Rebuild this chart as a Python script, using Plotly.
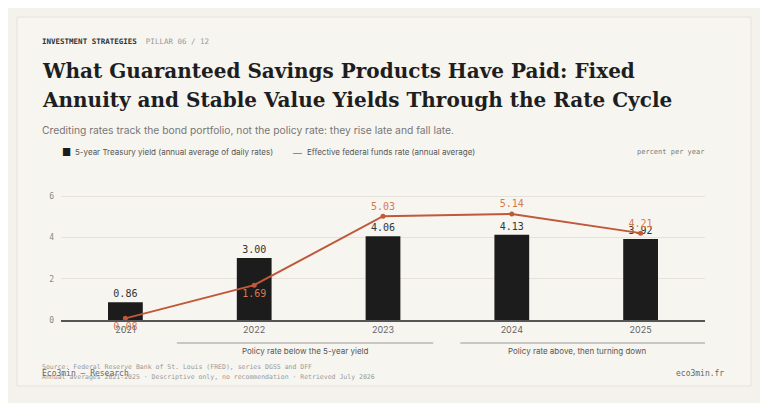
import plotly.graph_objects as go

years = ["2021", "2022", "2023", "2024", "2025"]
treasury_5y = [0.86, 3.00, 4.06, 4.13, 3.92]
fed_funds = [0.08, 1.69, 5.03, 5.14, 4.21]
y_ticks = [0, 2, 4, 6]

INK = "#1c1c1c"
RED = "#c0583a"
MONO = "DejaVu Sans Mono"
SANS = "Inter"
O = 8  # page body margin

fig = go.Figure()
fig.add_trace(go.Bar(x=years, y=treasury_5y, width=0.27, marker=dict(color=INK, line=dict(width=0)),
                     name="5-year Treasury yield (annual average of daily rates)",
                     text=[f"{v:.2f}" for v in treasury_5y], textposition="outside",
                     textfont=dict(family=MONO, size=10, color="#333"), cliponaxis=False))
fig.add_trace(go.Scatter(x=years, y=fed_funds, mode="lines+markers+text",
                         line=dict(color=RED, width=2), marker=dict(size=5, color=RED),
                         name="Effective federal funds rate (annual average)",
                         text=[f"{v:.2f}" for v in fed_funds],
                         textposition=["bottom center", "bottom center", "top center", "top center", "top center"],
                         textfont=dict(family=MONO, size=10, color="#d9784f"), cliponaxis=False))

W, H = 768 - O, 403 - O
L, R, T, B = 61, 705, 190, 320  # page coords
l, r, t, b = L - O, R - O, T - O, B - O
fig.update_layout(
    width=W, height=H, paper_bgcolor="#f4f2ec", plot_bgcolor="#f7f5f0",
    margin=dict(l=l, r=W - r, t=t, b=H - b), showlegend=False,
    xaxis=dict(range=[-0.5, 4.5], showgrid=False, ticks="", tickfont=dict(family=SANS, size=9, color="#666"),
               showline=True, linecolor="#555", linewidth=1.5),
    yaxis=dict(range=[0, 6.3], tickvals=y_ticks, gridcolor="#e6e2da", zeroline=False,
               tickfont=dict(family=MONO, size=8, color="#888"), ticklabelstandoff=6),
)

def fx(x):
    return (x - L) / (R - L)

def fy(y):
    return (B - y) / (B - T)

shapes = [
    dict(type="rect", xref="paper", yref="paper", x0=fx(17), x1=fx(751), y0=fy(386), y1=fy(17),
         line=dict(color="#e6e2da", width=1), fillcolor="#f7f5f0", layer="below"),
    dict(type="line", xref="x", yref="paper", x0=0.40, x1=2.39, y0=fy(343), y1=fy(343), line=dict(color="#999", width=1)),
    dict(type="line", xref="x", yref="paper", x0=2.60, x1=4.52, y0=fy(343), y1=fy(343), line=dict(color="#999", width=1)),
]
fig.update_layout(shapes=shapes)

def px(x, y, text, size, color, family, xanchor="left", yanchor="middle", **kw):
    fig.add_annotation(xref="paper", yref="paper", x=fx(x), y=fy(y), text=text,
                       showarrow=False, xanchor=xanchor, yanchor=yanchor,
                       font=dict(size=size, color=color, family=family), **kw)

px(40, 41, "<b>INVESTMENT STRATEGIES</b>  <span style='color:#999'>PILLAR 06 / 12</span>", 7.5, "#333", MONO)
px(40, 71, "<b>What Guaranteed Savings Products Have Paid: Fixed</b>", 20, "#1e1e1e", "DejaVu Serif")
px(40, 100, "<b>Annuity and Stable Value Yields Through the Rate Cycle</b>", 20, "#1e1e1e", "DejaVu Serif")
px(40, 130, "Crediting rates track the bond portfolio, not the policy rate: they rise late and fall late.", 10.3, "#777", SANS)
px(60, 152, "■", 10, INK, SANS)
px(73, 152, "5-year Treasury yield (annual average of daily rates)", 8, "#555", SANS)
px(291, 152, "—", 9, RED, SANS)
px(305, 152, "Effective federal funds rate (annual average)", 8, "#555", SANS)
px(706, 152, "percent per year", 7, "#777", MONO, xanchor="right")
px(305, 351, "Policy rate below the 5-year yield", 8, "#555", SANS, xanchor="center")
px(577, 351, "Policy rate above, then turning down", 8, "#555", SANS, xanchor="center")
px(40, 367, "Source: Federal Reserve Bank of St. Louis (FRED), series DGS5 and DFF", 6.5, "#999", MONO)
px(40, 377, "Annual averages 2021-2025 · Descriptive only, no recommendation · Retrieved July 2026", 6.5, "#999", MONO)
px(40, 373, "Eco3min — Research", 8, "#666", MONO)
px(726, 373, "eco3min.fr", 8, "#666", MONO, xanchor="right")

fig.write_html("out.html")
